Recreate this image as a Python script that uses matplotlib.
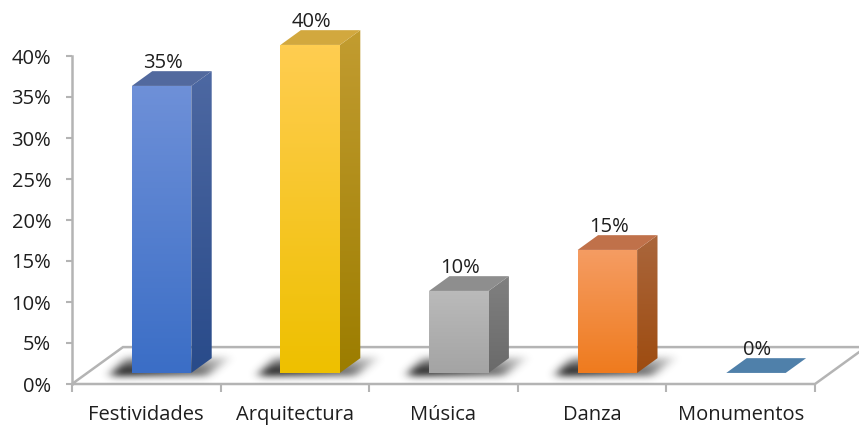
import numpy as np
import matplotlib
matplotlib.use("Agg")
import matplotlib.pyplot as plt
from matplotlib.patches import Polygon
from matplotlib.path import Path

# data
categories = ["Festividades", "Arquitectura", "Música", "Danza", "Monumentos"]
values = [35, 40, 10, 15, 0]
value_labels = ["35%", "40%", "10%", "15%", "0%"]
y_ticks = [0, 5, 10, 15, 20, 25, 30, 35, 40]
y_tick_labels = ["0%", "5%", "10%", "15%", "20%", "25%", "30%", "35%", "40%"]

# colours: front top/bottom, side top/bottom, top face
bar_colors = [
    ("#6e90d8", "#3b6ec6", "#4d68a2", "#294b8a", "#52699e"),
    ("#ffcd50", "#eec000", "#c29c30", "#9c7d00", "#d2a83e"),
    ("#bababa", "#a4a4a4", "#808080", "#6a6a6a", "#8e8e8e"),
    ("#f59c62", "#ef7b1e", "#aa663c", "#9e4c10", "#c0714a"),
    ("#4f80aa", "#4f80aa", "#4f80aa", "#4f80aa", "#4f80aa"),
]

plt.rcParams["font.family"] = ["Open Sans", "DejaVu Sans"]
text_color = "#1e1e1e"
line_color = "#b4b4b4"
font_size = 14.5

fig = plt.figure(figsize=(8.59, 4.26), dpi=100)
ax = fig.add_axes([72 / 859, 42 / 426, 1 - 72 / 859, 1 - 42 / 426])
ax.set_xlim(-0.5, -0.5 + 787 / 148.6)
ax.set_ylim(0, 384 / 8.2)

# depth of the floor in data units, and where bars sit inside it
DX, DY = 0.343, 4.5
front_frac, depth_frac, bar_w = 0.3, 0.4, 0.4
n = len(categories)

# floor
floor = Polygon([(-0.5, 0), (n - 0.5, 0), (n - 0.5 + DX, DY), (-0.5 + DX, DY)],
                closed=True, facecolor="white", edgecolor=line_color, lw=1.8,
                zorder=1, clip_on=False)
ax.add_patch(floor)

# soft shadows on the floor (grid of about one pixel per cell)
gx0, gx1, gy0, gy1 = -0.5, n - 0.5 + DX, 0.0, DY
nx, ny = int((gx1 - gx0) * 148.6), int((gy1 - gy0) * 8.2)
xs = np.linspace(gx0, gx1, nx)
ys = np.linspace(gy0, gy1, ny)
XX, YY = np.meshgrid(xs, ys)
pts = np.column_stack([XX.ravel(), YY.ravel()])
mask = np.zeros(XX.size)
base = front_frac * DY
ddx, ddy = depth_frac * DX, depth_frac * DY
for i, v in enumerate(values):
    if v <= 0:
        continue
    x0 = i - bar_w / 2 + front_frac * DX
    x1 = x0 + bar_w
    shp = Path([(x0 - 0.15, base - 0.35), (x1 + 0.1, base - 0.35),
                (x1 + ddx + 0.12, base + ddy + 0.1), (x0 - 0.04, base + ddy + 0.1)])
    inside = shp.contains_points(pts)
    # darker towards the front left, fading towards the back
    wx = np.clip(1.0 - (XX.ravel() - (x0 - 0.1)) / (x1 - x0 + 0.35) * 0.5, 0.5, 1.0)
    wy = np.clip(1.0 - (YY.ravel() - base) / ddy * 0.6, 0.35, 1.0)
    mask = np.maximum(mask, inside * wx * wy)
mask = mask.reshape(XX.shape)


def blur(a, sigma, axis):
    r = int(3 * sigma)
    k = np.exp(-0.5 * (np.arange(-r, r + 1) / sigma) ** 2)
    k /= k.sum()
    return np.apply_along_axis(lambda m: np.convolve(m, k, mode="same"), axis, a)


mask = blur(mask, 5.0, 1)
mask = blur(mask, 3.5, 0)
shadow = np.zeros(mask.shape + (4,))
shadow[..., :3] = 0.12
shadow[..., 3] = np.clip(mask * 1.1, 0, 0.85)
ax.imshow(shadow, extent=(gx0, gx1, gy0, gy1), origin="lower", aspect="auto",
          interpolation="bilinear", zorder=1.5, clip_on=False)
ax.set_xlim(-0.5, -0.5 + 787 / 148.6)
ax.set_ylim(0, 384 / 8.2)


def gradient_face(verts, c_top, c_bot, z):
    poly = Polygon(verts, closed=True, facecolor="none", edgecolor="none", zorder=z)
    ax.add_patch(poly)
    xs_ = [p[0] for p in verts]
    ys_ = [p[1] for p in verts]
    top = np.array(matplotlib.colors.to_rgb(c_top))
    bot = np.array(matplotlib.colors.to_rgb(c_bot))
    t = np.linspace(0, 1, 64)[:, None]
    img = (bot * (1 - t) + top * t)[:, None, :]
    im = ax.imshow(img, extent=(min(xs_), max(xs_), min(ys_), max(ys_)), origin="lower",
                   aspect="auto", interpolation="bilinear", zorder=z)
    im.set_clip_path(poly)


for i, (v, cols) in enumerate(zip(values, bar_colors)):
    x0 = i - bar_w / 2 + front_frac * DX
    x1 = x0 + bar_w
    y0, y1 = base, base + v
    f_top, f_bot, s_top, s_bot, t_col = cols
    if v > 0:
        gradient_face([(x0, y0), (x1, y0), (x1, y1), (x0, y1)], f_top, f_bot, 3)
        gradient_face([(x1, y0), (x1 + ddx, y0 + ddy), (x1 + ddx, y1 + ddy), (x1, y1)],
                      s_top, s_bot, 3)
    ax.add_patch(Polygon([(x0, y1), (x1, y1), (x1 + ddx, y1 + ddy), (x0 + ddx, y1 + ddy)],
                         closed=True, facecolor=t_col, edgecolor="none", zorder=3.5,
                         clip_on=False))
    ax.text((x0 + x1) / 2 + 0.01, y1 + 2.85, value_labels[i], ha="center", va="center",
            fontsize=font_size, color=text_color, zorder=5, clip_on=False)

# axes styling
for side in ("top", "right", "bottom"):
    ax.spines[side].set_visible(False)
ax.spines["left"].set_bounds(0, 40)
ax.spines["left"].set_color(line_color)
ax.spines["left"].set_linewidth(1.8)
ax.set_yticks(y_ticks)
ax.set_yticklabels(y_tick_labels)
ax.tick_params(axis="y", direction="out", length=4, width=1.5, color=line_color,
               pad=11, labelsize=font_size, labelcolor=text_color)
ax.set_xticks(np.arange(-0.5, n, 1.0))
ax.set_xticklabels([""] * (n + 1))
ax.set_xticks(np.arange(n), minor=True)
ax.set_xticklabels(categories, minor=True)
ax.tick_params(axis="x", which="major", direction="out", length=6, width=1.5,
               color=line_color)
ax.tick_params(axis="x", which="minor", length=0, pad=15, labelsize=font_size,
               labelcolor=text_color)
ax.patch.set_visible(False)

fig.savefig("out.png", dpi=100)
